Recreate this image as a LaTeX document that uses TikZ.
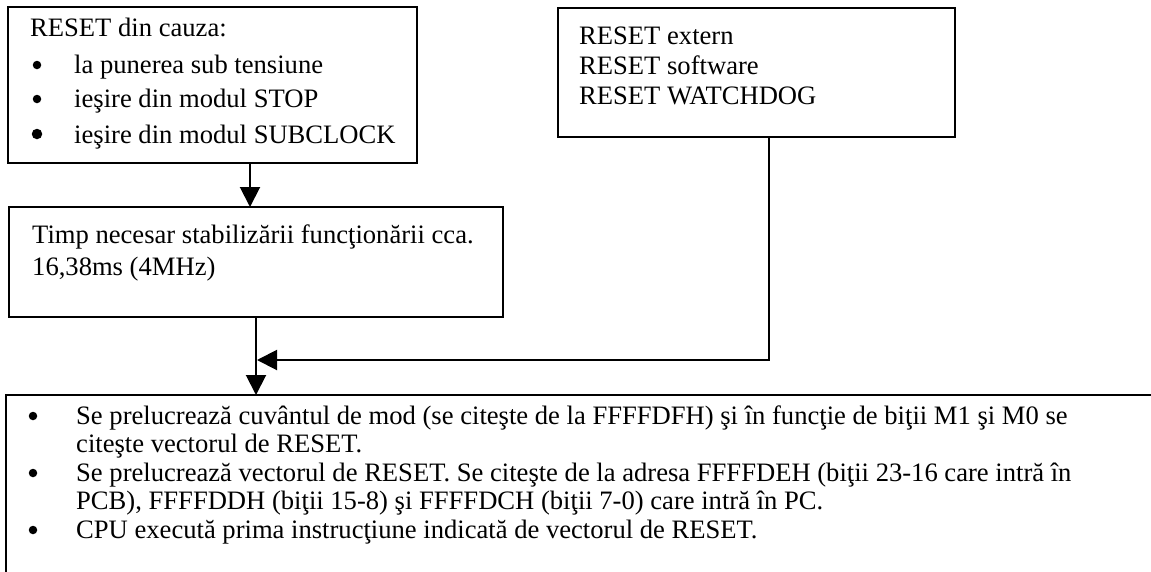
\documentclass[tikz,border=0pt]{standalone}
\usepackage{fontspec}
\setmainfont{Liberation Serif}
\usetikzlibrary{arrows.meta}
\newcommand{\bodyfont}{\fontsize{26.6}{30.6}\selectfont}
\begin{document}
\begin{tikzpicture}[x=1pt,y=-1pt,
  box/.style={draw, line width=2.2pt, inner sep=0pt, outer sep=0pt, anchor=north west},
  txt/.style={anchor=base west, inner sep=0pt, font=\bodyfont},
  bullet/.style={circle, fill, draw=none, inner sep=0pt, minimum size=8.5pt},
  bigbullet/.style={bullet, minimum size=10.5pt},
  arr/.style={line width=2pt, -{Triangle[length=20pt,width=20pt]}}]
\useasboundingbox (0,0) rectangle (1151,571);
\clip (0,0) rectangle (1151,571);

% boxes
\node[box, minimum width=409pt, minimum height=156pt] (cause) at (8,7) {};
\node[box, minimum width=397pt, minimum height=129pt] (ext) at (558,8) {};
\node[box, minimum width=494pt, minimum height=110pt] (delay) at (9,207) {};
\node[box, minimum width=1200pt, minimum height=250pt] (steps) at (6,395) {};

% reset causes
\node[txt] (c0) at (30,36) {RESET din cauza:};
\node[bullet] (cb1) at (37,65) {};
\node[txt] (c1) at (74,73) {la punerea sub tensiune};
\node[bullet] (cb2) at (37,99) {};
\node[txt] (c2) at (74,107) {ieşire din modul STOP};
\node[bigbullet] (cb3) at (37,134) {};
\node[txt] (c3) at (74,143) {ieşire din modul SUBCLOCK};

% other reset sources
\node[txt] (e1) at (579,44) {RESET extern};
\node[txt] (e2) at (579,74) {RESET software};
\node[txt] (e3) at (579,104) {RESET WATCHDOG};

% stabilisation delay
\node[txt] (d1) at (32,243) {Timp necesar stabilizării funcţionării cca.};
\node[txt] (d2) at (32,275) {16,38ms (4MHz)};

% processing steps
\node[bullet] (sb1) at (33,416) {};
\node[txt] (s1) at (76,424) {Se prelucrează cuvântul de mod (se citeşte de la FFFFDFH) şi în funcţie de biţii M1 şi M0 se};
\node[txt] (s2) at (76,452) {citeşte vectorul de RESET.};
\node[bullet] (sb2) at (33,473) {};
\node[txt] (s3) at (76,481) {Se prelucrează vectorul de RESET. Se citeşte de la adresa FFFFDEH (biţii 23-16 care intră în};
\node[txt] (s4) at (76,509) {PCB), FFFFDDH (biţii 15-8) şi FFFFDCH (biţii 7-0) care intră în PC.};
\node[bullet] (sb3) at (33,530) {};
\node[txt] (s5) at (76,538) {CPU execută prima instrucţiune indicată de vectorul de RESET.};

% connectors
\coordinate (t1) at (250,207);
\coordinate (merge) at (257,360);
\coordinate (t3) at (769,137);
\draw[arr] (t1 |- cause.south) -- (t1);
\draw[arr] (delay.south) -- (delay.south |- steps.north);
\draw[arr] (t3 |- ext.south) |- (merge);
\end{tikzpicture}
\end{document}
